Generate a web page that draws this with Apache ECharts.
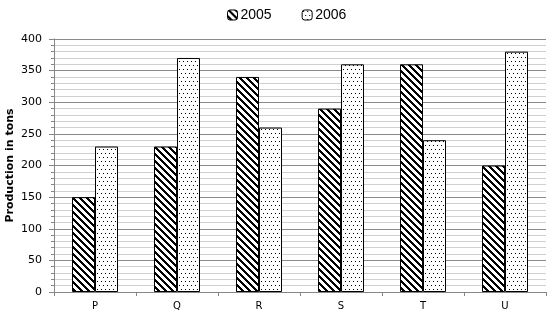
<!DOCTYPE html>
<html><head><meta charset="utf-8">
<script src="https://cdn.jsdelivr.net/npm/echarts@6/dist/echarts.min.js"></script>
<style>html,body{margin:0;padding:0;background:#fff}#c{width:551px;height:321px}</style>
</head><body><div id="c"></div>
<script>
var categories = ['P','Q','R','S','T','U'];
var series2005 = [150,230,340,290,360,200];
var series2006 = [230,370,260,360,240,380];
var seriesNames = ['2005','2006'];
var yTicks = {min:0, max:400, interval:50};

function stripePattern(){
  var n=7,t=3,c=document.createElement('canvas');c.width=n;c.height=n;
  var g=c.getContext('2d');g.fillStyle='#fff';g.fillRect(0,0,n,n);g.fillStyle='#000';
  for(var x=0;x<n;x++)for(var y=0;y<n;y++){ if((((x-y)%n)+n)%n<t) g.fillRect(x,y,1,1);}
  return {image:c,repeat:'repeat'};
}
function dotPattern(){
  var c=document.createElement('canvas');c.width=4;c.height=8;
  var g=c.getContext('2d');g.fillStyle='#fff';g.fillRect(0,0,4,8);g.fillStyle='#000';
  g.fillRect(1,1,1,1);g.fillRect(3,5,1,1);
  return {image:c,repeat:'repeat'};
}
var font='DejaVu Sans';
var chart=echarts.init(document.getElementById('c'),null,{renderer:'canvas'});
chart.setOption({
  animation:false,
  textStyle:{fontFamily:font},
  legend:{top:3,left:222,itemWidth:10,itemHeight:10,itemGap:30,itemStyle:{borderColor:'#000',borderWidth:1},
    textStyle:{fontSize:14,color:'#000',fontFamily:'Liberation Sans',padding:[0,0,0,-2]},
    data:seriesNames},
  grid:{left:54,right:5,top:39,bottom:29,containLabel:false,outerBoundsMode:'none'},
  xAxis:{type:'category',data:categories,
    axisLine:{lineStyle:{color:'#868686'}},
    axisTick:{show:true,length:4,lineStyle:{color:'#868686'}},
    axisLabel:{color:'#000',fontSize:10,margin:9,fontFamily:font}},
  yAxis:{type:'value',min:yTicks.min,max:yTicks.max,interval:yTicks.interval,
    name:'Production in tons',nameLocation:'middle',nameGap:38,nameMoveOverlap:false,
    nameTextStyle:{fontWeight:'bold',fontSize:11,color:'#000',fontFamily:font},
    axisLine:{show:true,lineStyle:{color:'#868686'}},
    axisTick:{show:true,length:5,lineStyle:{color:'#868686'}},
    minorTick:{show:true,splitNumber:5,length:3,lineStyle:{color:'#868686'}},
    axisLabel:{color:'#000',fontSize:11,margin:12,fontFamily:font},
    splitLine:{show:true,lineStyle:{color:'#8a8a8a',width:1}},
    minorSplitLine:{show:true,lineStyle:{color:'#d0d0d0',width:1}}},
  series:[
    {name:seriesNames[0],type:'bar',data:series2005,barGap:'0%',barWidth:23,
     itemStyle:{color:stripePattern(),borderColor:'#000',borderWidth:1}},
    {name:seriesNames[1],type:'bar',data:series2006,barGap:'0%',barWidth:23,
     itemStyle:{color:dotPattern(),borderColor:'#000',borderWidth:1}}
  ]
});
</script></body></html>
